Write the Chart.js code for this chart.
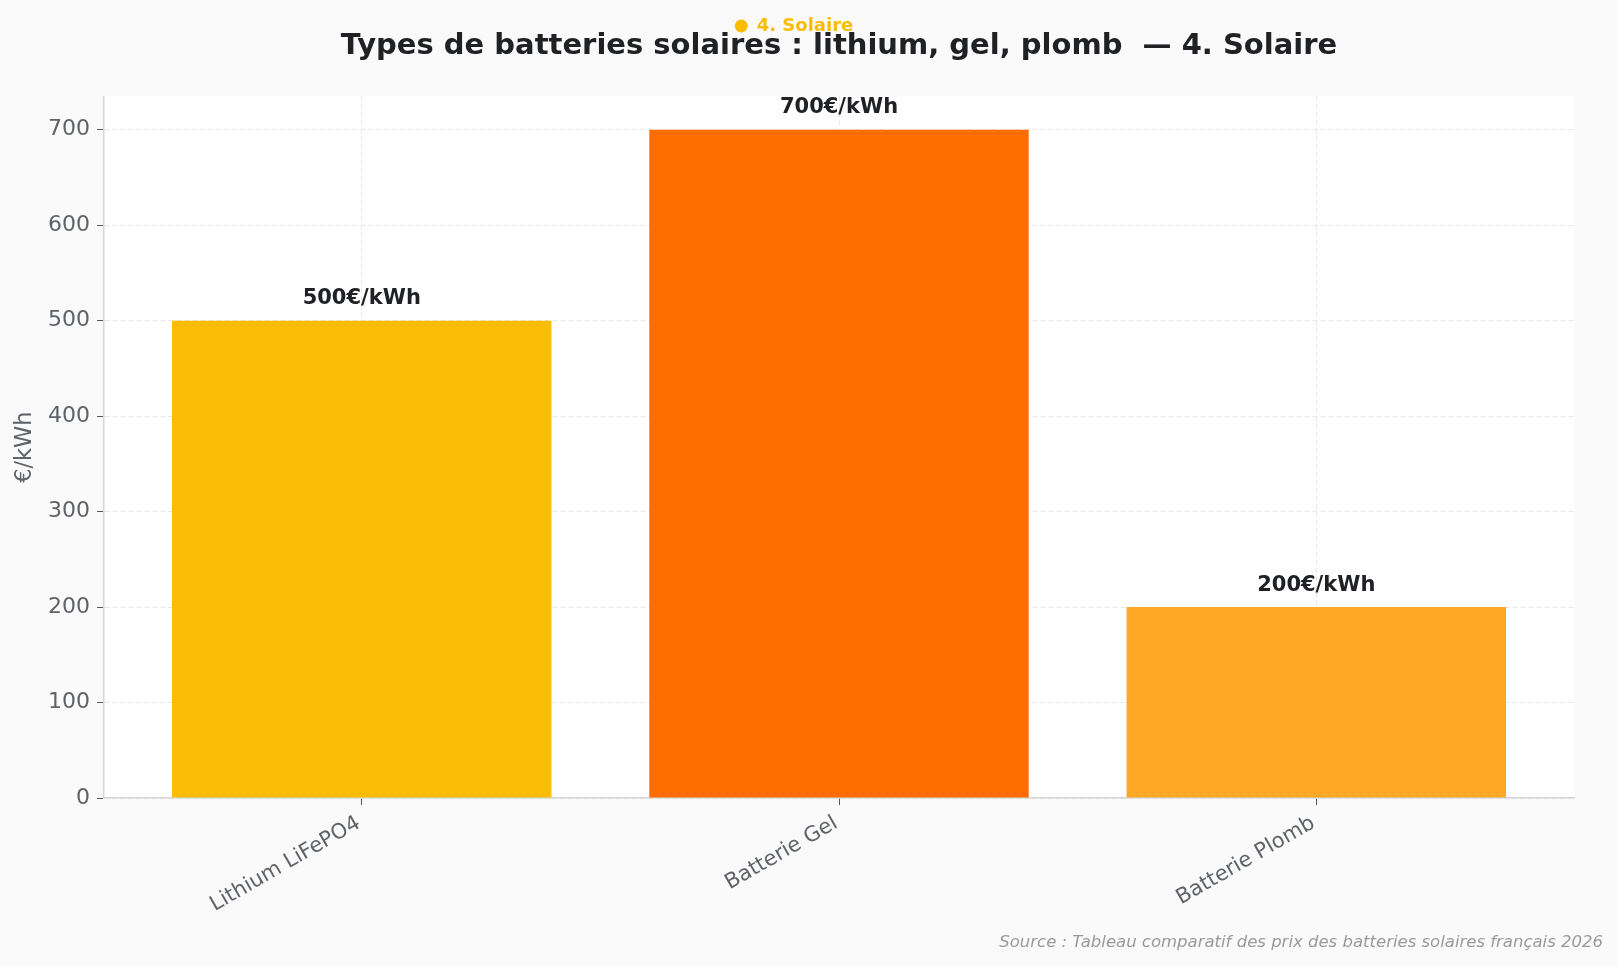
<!DOCTYPE html>
<html>
<head>
<meta charset="utf-8">
<title>Types de batteries solaires</title>
<script src="https://cdn.jsdelivr.net/npm/chart.js@4.4.1/dist/chart.umd.min.js"></script>
<style>
  html, body { margin: 0; padding: 0; background: #fafafa; }
</style>
</head>
<body>
<canvas id="batteryChart" width="1618" height="966"></canvas>
<script>
// data
const categories = ["Lithium LiFePO4", "Batterie Gel", "Batterie Plomb"];
const pricePerKwh = [500, 700, 200];
const yTicks = [0, 100, 200, 300, 400, 500, 600, 700];
const seriesName = "4. Solaire";
const chartTitle = "Types de batteries solaires : lithium, gel, plomb  — 4. Solaire";
const sourceText = "Source : Tableau comparatif des prix des batteries solaires français 2026";

const barColors = ["#FBBC04", "#FF6D00", "#FFA726"];
const gridColor = "#e6e6e6";
const tickText = "#5f6368";

Chart.defaults.font.family = "'DejaVu Sans', sans-serif";

// white plot area on a light grey page
const plotBackground = {
    id: "plotBackground",
    beforeDraw(chart) {
        const { ctx, chartArea: a } = chart;
        ctx.save();
        ctx.fillStyle = "#fafafa";
        ctx.fillRect(0, 0, chart.width, chart.height);
        ctx.fillStyle = "#ffffff";
        ctx.fillRect(a.left, a.top, a.right - a.left, a.bottom - a.top);
        ctx.restore();
    },
};

// value labels above the bars
const barValues = {
    id: "barValues",
    afterDatasetsDraw(chart) {
        const { ctx } = chart;
        const meta = chart.getDatasetMeta(0);
        ctx.save();
        ctx.font = "bold 21px 'DejaVu Sans'";
        ctx.fillStyle = "#202124";
        ctx.textAlign = "center";
        ctx.textBaseline = "middle";
        meta.data.forEach(function (bar, i) {
            ctx.fillText(pricePerKwh[i] + "€/kWh", bar.x, bar.y - 22);
        });
        ctx.restore();
    },
};

// source note, bottom right
const sourceNote = {
    id: "sourceNote",
    afterDraw(chart) {
        const { ctx } = chart;
        ctx.save();
        ctx.font = "italic 16.5px 'DejaVu Sans'";
        ctx.fillStyle = "#9a9a9a";
        ctx.textAlign = "right";
        ctx.textBaseline = "middle";
        ctx.fillText(sourceText, chart.width - 15, 943);
        ctx.restore();
    },
};

const ctx = document.getElementById("batteryChart").getContext("2d");
window.batteryChart = new Chart(ctx, {
    type: "bar",
    data: {
        datasets: [
            {
                label: seriesName,
                data: pricePerKwh.map((v, i) => ({ x: i, y: v })),
                backgroundColor: barColors,
                borderWidth: 0,
                barPercentage: 0.795,
                categoryPercentage: 1.0,
            },
        ],
    },
    options: {
        responsive: false,
        animation: false,
        devicePixelRatio: 1,
        layout: {
            padding: { left: 14, right: 44, top: 15, bottom: 0 },
        },
        plugins: {
            legend: {
                position: "top",
                weight: 3000,
                onClick: null,
                labels: {
                    usePointStyle: true,
                    pointStyleWidth: 13,
                    boxHeight: 9.2,
                    padding: 2,
                    color: barColors[0],
                    font: { size: 18, weight: "bold" },
                    generateLabels: () => [
                        {
                            text: seriesName,
                            fillStyle: barColors[0],
                            strokeStyle: barColors[0],
                            fontColor: barColors[0],
                            lineWidth: 0,
                            pointStyle: "circle",
                            hidden: false,
                            datasetIndex: 0,
                        },
                    ],
                },
            },
            title: {
                display: true,
                text: chartTitle,
                fullSize: false,
                color: "#202124",
                font: { size: 29, weight: "bold", lineHeight: 0.01 },
                padding: { top: 1, bottom: 50 },
            },
            tooltip: { enabled: false },
        },
        scales: {
            x: {
                type: "linear",
                min: -0.54,
                max: 2.54,
                offset: false,
                afterBuildTicks: (scale) => {
                    scale.ticks = categories.map((c, i) => ({ value: i }));
                },
                afterFit: (scale) => {
                    scale.height = 168;
                },
                ticks: {
                    autoSkip: false,
                    minRotation: 30,
                    maxRotation: 30,
                    padding: 6,
                    labelOffset: -3,
                    color: tickText,
                    font: { size: 21 },
                    callback: (v) => categories[v],
                },
                grid: {
                    offset: false,
                    color: gridColor,
                    tickColor: "#555",
                    tickLength: 7,
                    tickWidth: 1,
                },
                border: { color: "#d6d6d6", width: 1.5, dash: [5, 3] },
            },
            y: {
                min: 0,
                max: 735,
                afterBuildTicks: (scale) => {
                    scale.ticks = yTicks.map((v) => ({ value: v }));
                },
                afterFit: (scale) => {
                    scale.width = 90;
                },
                ticks: {
                    padding: 7,
                    color: tickText,
                    font: { size: 22 },
                },
                grid: {
                    color: gridColor,
                    tickColor: "#555",
                    tickLength: 7,
                    tickWidth: 1,
                },
                border: { color: "#d6d6d6", width: 1.5, dash: [5, 3] },
                title: {
                    display: true,
                    text: "€/kWh",
                    color: tickText,
                    font: { size: 22.5, lineHeight: 1.0 },
                    padding: { top: 0, bottom: 0 },
                },
            },
        },
    },
    plugins: [plotBackground, barValues, sourceNote],
});
</script>
</body>
</html>
